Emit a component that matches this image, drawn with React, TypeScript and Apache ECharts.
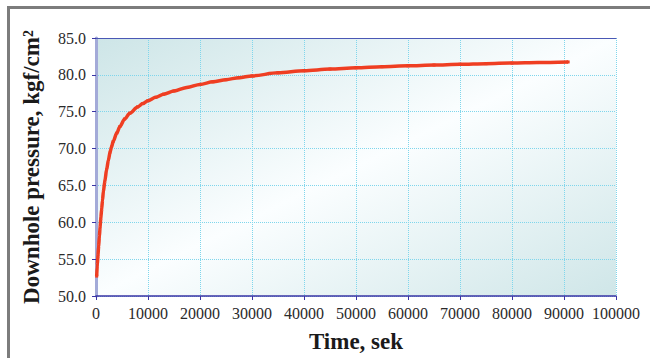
import React, { useEffect, useRef } from "react";
import * as echarts from "echarts";

const timeSec = [
  130, 250, 370, 500, 640, 770, 930, 1090, 1250, 1410, 1700, 2050, 2400, 2700,
  3000, 3300, 4000, 4600, 5500, 6500, 8000, 9000, 10000, 11500, 13000, 15000,
  17500, 20000, 22500, 25000, 27500, 30000, 35000, 40000, 45000, 50000, 55000,
  60000, 65000, 70000, 75000, 80000, 85000, 90800,
];
const pressure = [
  52.7, 54.2, 55.4, 56.7, 58.0, 59.2, 60.6, 61.8, 63.0, 64.1, 65.6, 67.2, 68.5,
  69.5, 70.25, 70.95, 72.1, 73.0, 74.0, 74.8, 75.65, 76.1, 76.5, 76.95, 77.38,
  77.82, 78.3, 78.7, 79.05, 79.35, 79.62, 79.86, 80.27, 80.56, 80.78, 80.95,
  81.1, 81.22, 81.33, 81.43, 81.52, 81.6, 81.67, 81.75,
];
const xTitle = "Time, sek";
const yTitle = "Downhole pressure, kgf/cm²";

export default function App() {
  const ref = useRef<HTMLDivElement>(null);
  useEffect(() => {
    if (!ref.current) return;
    const chart = echarts.init(ref.current, null, { renderer: "svg" });
    const font = "'Liberation Serif', 'Times New Roman', serif";
    const grid = "#7fd6ec";
    chart.setOption({
      animation: false,
      grid: {
        left: 96,
        right: 34,
        top: 38,
        bottom: 60,
        show: true,
        borderWidth: 0,
        backgroundColor: {
          type: "linear",
          x: 0,
          y: 0,
          x2: 1,
          y2: 1,
          colorStops: [
            { offset: 0, color: "#cde5e7" },
            { offset: 0.5, color: "#fbfeff" },
            { offset: 1, color: "#cfe6e8" },
          ],
        },
      },
      xAxis: [
        {
          type: "value",
          min: 0,
          max: 100000,
          interval: 10000,
          name: xTitle,
          nameLocation: "middle",
          nameGap: 34,
          nameTextStyle: {
            fontFamily: font,
            fontWeight: "bold",
            fontSize: 23,
            color: "#1a1a1a",
          },
          axisLine: { show: true, lineStyle: { color: "#3a35a5", width: 1.5 } },
          axisTick: { show: true, length: 4, lineStyle: { color: "#3a35a5" } },
          axisLabel: {
            fontFamily: font,
            fontSize: 16,
            color: "#2a2a2a",
            margin: 9,
            formatter: (v: number) => String(v),
          },
          splitLine: { show: true, lineStyle: { color: grid, type: "dotted", width: 1 } },
        },
        {
          type: "value",
          position: "top",
          min: 0,
          max: 100000,
          axisLine: { show: true, lineStyle: { color: "#4a58b5", width: 1 } },
          axisTick: { show: false },
          axisLabel: { show: false },
          splitLine: { show: false },
        },
      ],
      yAxis: [
        {
          type: "value",
          min: 50,
          max: 85,
          interval: 5,
          name: yTitle,
          nameLocation: "middle",
          nameRotate: 90,
          nameGap: 53,
          nameTextStyle: {
            fontFamily: font,
            fontWeight: "bold",
            fontSize: 23,
            color: "#1a1a1a",
          },
          axisLine: { show: true, lineStyle: { color: "#3a35a5", width: 1.5 } },
          axisTick: { show: true, length: 4, lineStyle: { color: "#3a35a5" } },
          axisLabel: {
            fontFamily: font,
            fontSize: 16,
            color: "#2a2a2a",
            margin: 10,
            formatter: (v: number) => v.toFixed(1),
          },
          splitLine: { show: true, lineStyle: { color: grid, type: "dotted", width: 1 } },
        },
        {
          type: "value",
          position: "right",
          min: 50,
          max: 85,
          axisLine: { show: true, lineStyle: { color: "#a3aad8", width: 3 } },
          axisTick: { show: false },
          axisLabel: { show: false },
          splitLine: { show: false },
        },
      ],
      series: [
        {
          type: "line",
          xAxisIndex: 0,
          yAxisIndex: 0,
          data: timeSec.map((t, i) => [t, pressure[i]]),
          smooth: 0.3,
          smoothMonotone: "x",
          symbol: "rect",
          symbolSize: 3,
          showSymbol: true,
          itemStyle: { color: "#ef3e22" },
          lineStyle: { color: "#ef3e22", width: 3.5 },
        },
      ],
    });
    return () => chart.dispose();
  }, []);
  return (
    <div
      style={{
        position: "absolute",
        left: 0,
        top: 0,
        width: 650,
        height: 358,
        overflow: "hidden",
        background: "#ffffff",
      }}
    >
      <div ref={ref} style={{ position: "absolute", left: 0, top: 0, width: 650, height: 358 }} />
      <div
        style={{
          position: "absolute",
          left: 7,
          top: 6,
          width: 700,
          height: 400,
          borderTop: "3px solid #7c7c7c",
          borderLeft: "3px solid #7c7c7c",
          pointerEvents: "none",
        }}
      />
    </div>
  );
}
